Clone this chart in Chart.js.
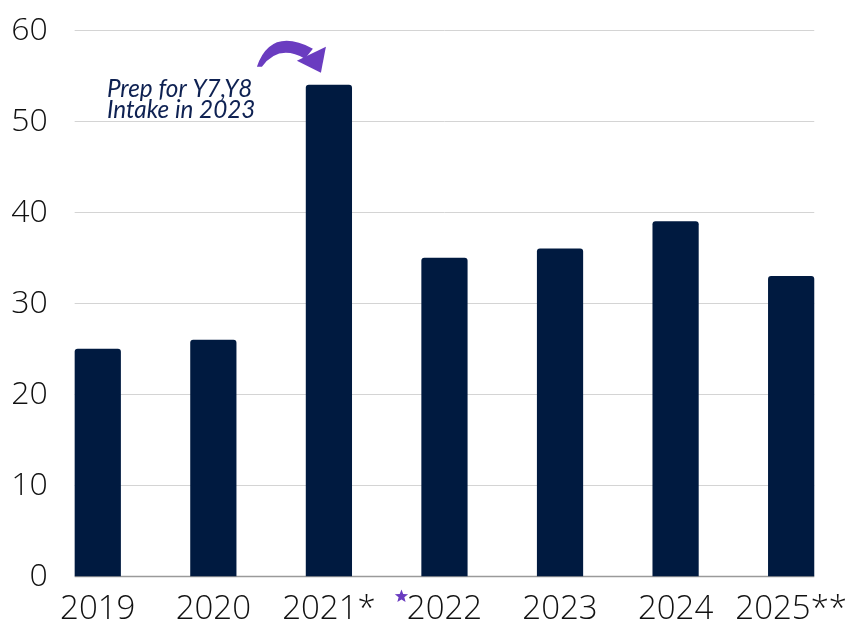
<!DOCTYPE html>
<html>
<head>
<meta charset="utf-8">
<script src="https://cdn.jsdelivr.net/npm/chart.js@4.4.0/dist/chart.umd.min.js"></script>
<style>
  html, body { margin: 0; padding: 0; background: #fff; overflow: hidden; }
  #wrap { width: 852px; height: 624px; position: relative; }
</style>
</head>
<body>
<div id="wrap"><canvas id="intakeChart"></canvas></div>
<script>
// chart data
const years = ['2019', '2020', '2021*', '2022', '2023', '2024', '2025**'];
const intake = [25, 26, 54, 35, 36, 39, 33];
const yTicks = [0, 10, 20, 30, 40, 50, 60];
const noteLines = ['Prep for Y7,Y8', 'Intake in 2023'];

const NAVY = '#001a40';
const PURPLE = '#6a3cc0';
const TICK_FONT = '300 32px "Open Sans"';

// horizontal grid only spans the bars, like the original; y labels drawn here
// because chart.js clips them to the (narrow) axis box
const gridPlugin = {
  id: 'barGrid',
  beforeDatasetsDraw(chart) {
    const { ctx, scales: { y } } = chart;
    const bars = chart.getDatasetMeta(0).data;
    if (!bars.length) return;
    const x0 = bars[0].x - bars[0].width / 2;
    const last = bars[bars.length - 1];
    const x1 = last.x + last.width / 2;
    ctx.save();
    yTicks.forEach(v => {
      const py = Math.round(y.getPixelForValue(v)) + 0.5;
      ctx.strokeStyle = v === 0 ? '#9a9a9a' : '#d4d4d4';
      ctx.lineWidth = v === 0 ? 1.5 : 1;
      ctx.beginPath();
      ctx.moveTo(x0, py);
      ctx.lineTo(x1, py);
      ctx.stroke();

      ctx.fillStyle = '#111';
      ctx.font = TICK_FONT;
      ctx.textAlign = 'right';
      ctx.textBaseline = 'middle';
      ctx.fillText(String(v), x0 - 27, py);
    });
    ctx.restore();
  }
};

// note + curved arrow over the 2021 bar, star before 2022
const notePlugin = {
  id: 'note',
  afterDraw(chart) {
    const { ctx, scales: { x, y } } = chart;
    const bx = x.getPixelForValue(2);
    const by = y.getPixelForValue(intake[2]);
    ctx.save();
    ctx.fillStyle = '#0e2152';
    ctx.font = 'italic 24.3px Lato';
    ctx.textBaseline = 'alphabetic';
    noteLines.forEach((t, i) => ctx.fillText(t, bx - 222, by + 12 + i * 21));

    // arrow body
    ctx.fillStyle = PURPLE;
    ctx.beginPath();
    ctx.moveTo(bx - 72, by - 18);
    ctx.quadraticCurveTo(bx - 58, by - 58, bx - 16, by - 36);
    ctx.lineTo(bx - 24, by - 26);
    ctx.quadraticCurveTo(bx - 50, by - 41, bx - 67, by - 18);
    ctx.closePath();
    ctx.fill();
    // arrow head
    ctx.beginPath();
    ctx.moveTo(bx - 32, by - 24);
    ctx.lineTo(bx - 3, by - 38);
    ctx.lineTo(bx - 8, by - 12);
    ctx.closePath();
    ctx.fill();

    // small star
    const sx = x.getPixelForValue(3) - 43;
    const sy = chart.chartArea.bottom + 20;
    ctx.beginPath();
    for (let i = 0; i < 10; i++) {
      const r = i % 2 === 0 ? 7 : 3;
      const a = -Math.PI / 2 + i * Math.PI / 5;
      ctx.lineTo(sx + r * Math.cos(a), sy + r * Math.sin(a));
    }
    ctx.closePath();
    ctx.fill();
    ctx.restore();
  }
};

new Chart(document.getElementById('intakeChart'), {
  type: 'bar',
  data: {
    labels: years,
    datasets: [{
      data: intake,
      backgroundColor: NAVY,
      borderRadius: { topLeft: 3, topRight: 3 },
      borderSkipped: 'bottom',
      categoryPercentage: 1,
      barPercentage: 0.4
    }]
  },
  options: {
    responsive: true,
    maintainAspectRatio: false,
    animation: false,
    layout: { padding: { top: 30, right: 0, bottom: -10, left: 0 } },
    plugins: { legend: { display: false }, tooltip: { enabled: false } },
    scales: {
      x: {
        grid: { display: false },
        border: { display: false },
        ticks: {
          color: '#111',
          font: { family: 'Open Sans', size: 33, weight: 300 },
          padding: 5,
          maxRotation: 0,
          autoSkip: false
        }
      },
      y: {
        min: 0,
        max: 60,
        afterFit(scale) { scale.width = 40; },
        grid: { display: false },
        border: { display: false },
        ticks: { stepSize: 10, display: false }
      }
    }
  },
  plugins: [gridPlugin, notePlugin]
});
</script>
</body>
</html>
